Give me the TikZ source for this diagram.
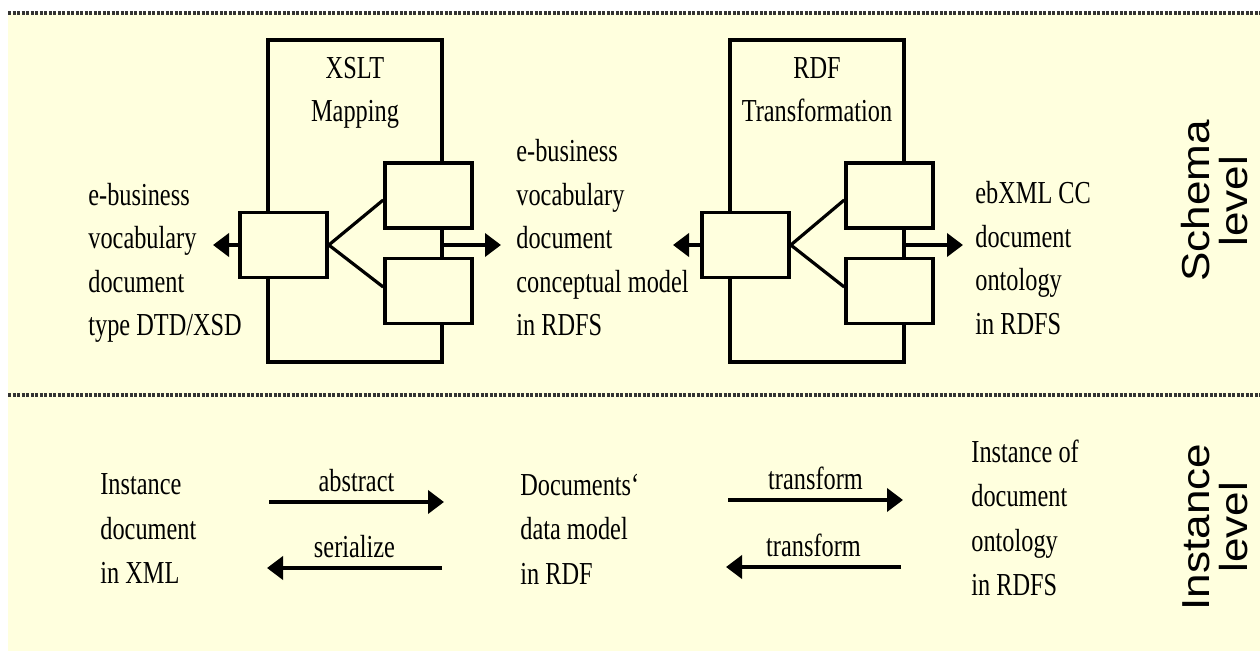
\documentclass[tikz,border=0pt]{standalone}
\usepackage{fontspec}
\setmainfont[FakeStretch=0.76]{Liberation Serif}
\newfontfamily\levelfont[FakeStretch=1.13]{Liberation Sans}
\usetikzlibrary{arrows.meta}
\definecolor{cream}{RGB}{255,255,222}

\begin{document}
\begin{tikzpicture}[x=0.5pt,y=-0.5pt,
  frame/.style={draw, line width=1.8pt, inner sep=0, minimum width=87pt, minimum height=161pt},
  part/.style={draw, line width=1.8pt, fill=cream, inner sep=0, minimum width=43.5pt, minimum height=32.5pt},
  link/.style={line width=1.6pt},
  arr/.style={line width=1.9pt, -{Triangle[length=8pt,width=11.5pt]}},
  txt/.style={font=\fontsize{16}{21.75}\selectfont, align=left, inner sep=0, anchor=west},
  ltxt/.style={txt, font=\fontsize{16}{22.25}\selectfont},
  title/.style={font=\fontsize{16}{21.5}\selectfont, align=center, inner sep=0, anchor=north},
  lvl/.style={font=\levelfont\fontsize{19.5}{19}\selectfont, align=center, inner sep=0, rotate=90},
  lbl/.style={font=\fontsize{16}{18}\selectfont, inner sep=0, above=4pt, midway},
  sep/.style={line width=1.9pt, black!80, dash pattern=on 1.5pt off 0.75pt}]

% page and panel background
\fill[white] (0,0) rectangle (1260,653);
\useasboundingbox (0,0) rectangle (1260,653);
\fill[cream] (8,13) rectangle (1260,651);

% level separators
\draw[sep] (8,13) -- (1260,13);
\draw[sep] (8,395) -- (1260,395);

% ---------- schema level ----------
% XSLT mapping block
\node[frame] (xf) at (355,201) {};
\node[title] (xt) at (355,57) {XSLT\\Mapping};
\node[part] (lb) at (283.5,245) {};
\node[part] (ub) at (428.5,195.5) {};
\node[part] (db) at (428.5,291) {};
\draw[link] (lb.east) -- ([yshift=-2.25pt]ub.west);
\draw[link] (lb.east) -- ([yshift=2pt]db.west);

% RDF transformation block
\node[frame] (rf) at (817,201) {};
\node[title] (rt) at (817,57) {RDF\\Transformation};
\node[part] (lb2) at (745.5,245) {};
\node[part] (ub2) at (889.5,195.5) {};
\node[part] (db2) at (889.5,291) {};
\draw[link] (lb2.east) -- ([yshift=-2.25pt]ub2.west);
\draw[link] (lb2.east) -- ([yshift=2pt]db2.west);

% schema documents
\node[txt] (dtd) at (88,263) {e-business\\vocabulary\\document\\type DTD/XSD};
\node[txt] (rdfs) at (516,238) {e-business\\vocabulary\\document\\conceptual model\\in RDFS};
\node[txt] (cc) at (975,258) {ebXML CC\\document\\ontology\\in RDFS};

% schema arrows
\coordinate (t0) at (213,245);
\coordinate (t1) at (501,245);
\coordinate (t2) at (673,245);
\coordinate (t3) at (963,245);
\draw[arr] (lb.west) -- (t0);
\draw[arr] (xf.east |- lb.east) -- (t1);
\draw[arr] (lb2.west) -- (t2);
\draw[arr] (rf.east |- lb2.east) -- (t3);

% level captions
\node[lvl] (schema) at (1215,201) {Schema\\level};
\node[lvl] (inst) at (1215,527) {Instance\\level};

% ---------- instance level ----------
\node[ltxt] (xml) at (100,529) {Instance\\document\\in XML};
\node[ltxt] (rdf) at (520,529) {Documents‘\\data model\\in RDF};
\node[ltxt] (ont) at (971,518) {Instance of\\document\\ontology\\in RDFS};

\coordinate (a1s) at (269,502);
\coordinate (a1e) at (444,502);
\coordinate (a2s) at (442,568);
\coordinate (a2e) at (267,568);
\coordinate (a3s) at (728,500);
\coordinate (a3e) at (903,500);
\coordinate (a4s) at (901,567);
\coordinate (a4e) at (726,567);

\draw[arr] (a1s) -- (a1e) node[lbl] (abs) {abstract};
\draw[arr] (a2s) -- (a2e) node[lbl] (ser) {serialize};
\draw[arr] (a3s) -- (a3e) node[lbl] (tr1) {transform};
\draw[arr] (a4s) -- (a4e) node[lbl] (tr2) {transform};
\end{tikzpicture}
\end{document}
